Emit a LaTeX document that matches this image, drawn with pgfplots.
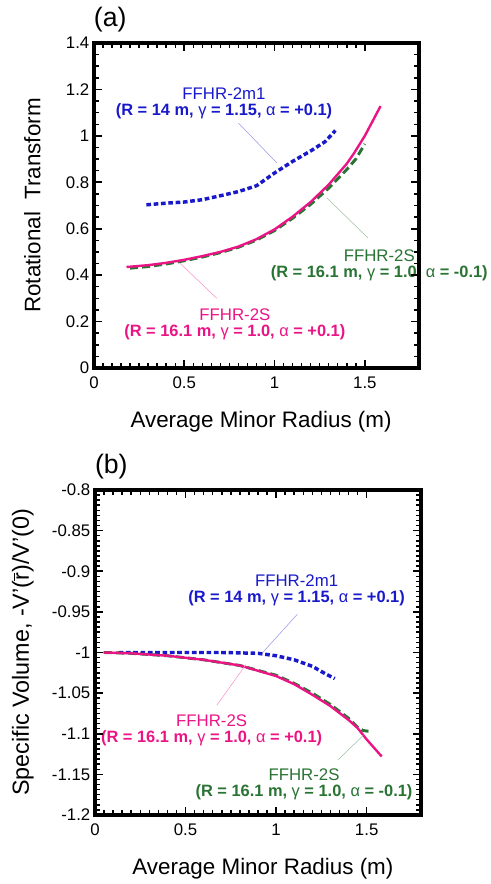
\documentclass[border=0pt]{standalone}
\usepackage{fontspec}
\setmainfont{Liberation Sans}
\usepackage{pgfplots}
\pgfplotsset{compat=1.18}

\definecolor{cblue}{rgb}{0.10,0.10,0.80}
\definecolor{cpink}{rgb}{0.92,0.08,0.52}
\definecolor{cgreen}{rgb}{0.16,0.45,0.20}

\newcommand{\lab}[2]{{\fontsize{12.6}{15.5}\selectfont #1}\\{\fontsize{12.3}{15.5}\selectfont\bfseries #2}}
\newcommand{\ga}{{\mdseries γ}}
\newcommand{\al}{{\mdseries α}}

\pgfplotsset{
  boxframe/.style={
    scale only axis, clip=false,
    axis line style={line width=2.3pt},
    axis on top,
    tick align=inside,
    tick pos=both,
    major tick style={draw=black, line width=1.2pt},
    minor tick style={draw=black, line width=1.1pt},
    major tick length=6pt, minor tick length=3.5pt,
    tick label style={font=\fontsize{12.6}{14}\selectfont},
    xticklabel style={yshift=-3pt},
    label style={font=\fontsize{16.8}{18}\selectfont},
    /pgf/number format/assume math mode=true,
  },
}

\begin{document}
\begin{tikzpicture}
\path (0,0) (368.25pt,663pt);

% (a) rotational transform
\begin{axis}[boxframe,
  at={(70.5pt,387pt)}, anchor=south west,
  width=243.75pt, height=243.75pt,
  xmin=0, xmax=1.8, ymin=0, ymax=1.4,
  xtick={0,0.5,1,1.5}, ytick={0,0.2,0.4,0.6,0.8,1,1.2,1.4},
  minor x tick num=9, minor y tick num=3,
  xlabel={Average Minor Radius (m)},
  ylabel={Rotational\ \ Transform},
  xlabel style={at={(axis description cs:0.514,-0.166)}, anchor=center},
  ylabel style={at={(axis description cs:-0.19,0.5)}, anchor=center},
]
\addplot[cblue, line width=2.6pt, dash pattern=on 3.5pt off 2pt] coordinates {
  (0.29,0.703) (0.40,0.710) (0.50,0.715) (0.60,0.725) (0.70,0.742) (0.80,0.760)
  (0.90,0.785) (1.00,0.840) (1.10,0.890) (1.20,0.935) (1.28,0.975) (1.337,1.023)};
\addplot[cgreen, line width=2.2pt, dash pattern=on 6pt off 3pt] coordinates {
  (0.20,0.430) (0.30,0.437) (0.40,0.448) (0.50,0.462) (0.60,0.478) (0.70,0.497)
  (0.80,0.520) (0.90,0.551) (1.00,0.592) (1.10,0.645) (1.20,0.705) (1.30,0.775)
  (1.40,0.855) (1.45,0.900) (1.50,0.965)};
\addplot[cpink, line width=1.8pt] coordinates {
  (0.18,0.435) (0.30,0.443) (0.40,0.453) (0.50,0.466) (0.60,0.482) (0.70,0.500)
  (0.80,0.523) (0.90,0.555) (1.00,0.597) (1.10,0.652) (1.20,0.715) (1.30,0.790)
  (1.40,0.880) (1.44,0.925) (1.50,1.000) (1.587,1.128)};

\draw[cblue!45, line width=0.4pt] (axis cs:0.80,1.055) -- (axis cs:1.013,0.883);
\draw[cgreen!45, line width=0.4pt] (axis cs:1.29,0.732) -- (axis cs:1.518,0.56);
\draw[cpink!45, line width=0.4pt] (axis cs:0.476,0.452) -- (axis cs:0.68,0.30);

\node[cblue, align=center] at (axis cs:0.72,1.1415)
  {\lab{FFHR-2m1}{(R = 14 m, \ga\ = 1.15, \al\ = +0.1)}};
\node[cgreen, align=center, fill=white, inner sep=1pt] at (axis cs:1.58,0.4435)
  {\lab{FFHR-2S}{(R = 16.1 m, \ga\ = 1.0, \al\ = -0.1)}};
\node[cpink, align=center] at (axis cs:0.78,0.187)
  {\lab{FFHR-2S}{(R = 16.1 m, \ga\ = 1.0, \al\ = +0.1)}};

\node[font=\fontsize{20}{22}\selectfont] at (axis description cs:0.05,1.071) {(a)};
\end{axis}

% (b) specific volume
\begin{axis}[boxframe,
  at={(71.25pt,51.75pt)}, anchor=south west,
  width=244.5pt, height=243.75pt,
  xmin=0, xmax=1.8, ymin=-1.2, ymax=-0.8,
  xtick={0,0.5,1,1.5},
  ytick={-1.2,-1.15,-1.1,-1.05,-1,-0.95,-0.9,-0.85,-0.8},
  yticklabels={-1.2,-1.15,-1.1,-1.05,-1,-0.95,-0.9,-0.85,-0.8},
  minor x tick num=9, minor y tick num=7,
  xlabel={Average Minor Radius (m)},
  ylabel={Specific Volume, -V'($\overline{\hbox{r}}$)/V'(0)},
  ylabel style={font=\fontsize{17.5}{19}\selectfont},
  xlabel style={at={(axis description cs:0.515,-0.166)}, anchor=center},
  ylabel style={at={(axis description cs:-0.221,0.5)}, anchor=center},
]
\addplot[cblue, line width=2.6pt, dash pattern=on 3.5pt off 2pt] coordinates {
  (0.13,-1.000) (0.40,-1.000) (0.70,-1.000) (0.90,-1.001) (1.00,-1.004)
  (1.10,-1.009) (1.20,-1.017) (1.27,-1.026) (1.324,-1.032)};
\addplot[cgreen, line width=2.2pt, dash pattern=on 6pt off 3pt] coordinates {
  (0.05,-1.000) (0.20,-1.001) (0.40,-1.004) (0.60,-1.009) (0.80,-1.016)
  (1.00,-1.028) (1.10,-1.038) (1.20,-1.050) (1.30,-1.064) (1.40,-1.081)
  (1.45,-1.092) (1.48,-1.096) (1.51,-1.097)};
\addplot[cpink, line width=1.8pt] coordinates {
  (0.046,-1.000) (0.20,-1.001) (0.40,-1.004) (0.60,-1.009) (0.80,-1.016)
  (1.00,-1.029) (1.10,-1.039) (1.20,-1.052) (1.30,-1.066) (1.40,-1.083)
  (1.45,-1.093) (1.50,-1.107) (1.583,-1.128)};

\draw[cblue!45, line width=0.4pt] (axis cs:1.117,-0.953) -- (axis cs:0.926,-1.0);
\draw[cpink!45, line width=0.4pt] (axis cs:0.833,-1.015) -- (axis cs:0.672,-1.065);
\draw[cgreen!45, line width=0.4pt] (axis cs:1.481,-1.102) -- (axis cs:1.343,-1.132);

\node[cblue, align=center] at (axis cs:1.113,-0.924)
  {\lab{FFHR-2m1}{(R = 14 m, \ga\ = 1.15, \al\ = +0.1)}};
\node[cpink, align=center] at (axis cs:0.644,-1.0955)
  {\lab{FFHR-2S}{(R = 16.1 m, \ga\ = 1.0, \al\ = +0.1)}};
\node[cgreen, align=center] at (axis cs:1.154,-1.1625)
  {\lab{FFHR-2S}{(R = 16.1 m, \ga\ = 1.0, \al\ = -0.1)}};

\node[font=\fontsize{20}{22}\selectfont] at (axis description cs:0.05,1.071) {(b)};
\end{axis}
\end{tikzpicture}
\end{document}
